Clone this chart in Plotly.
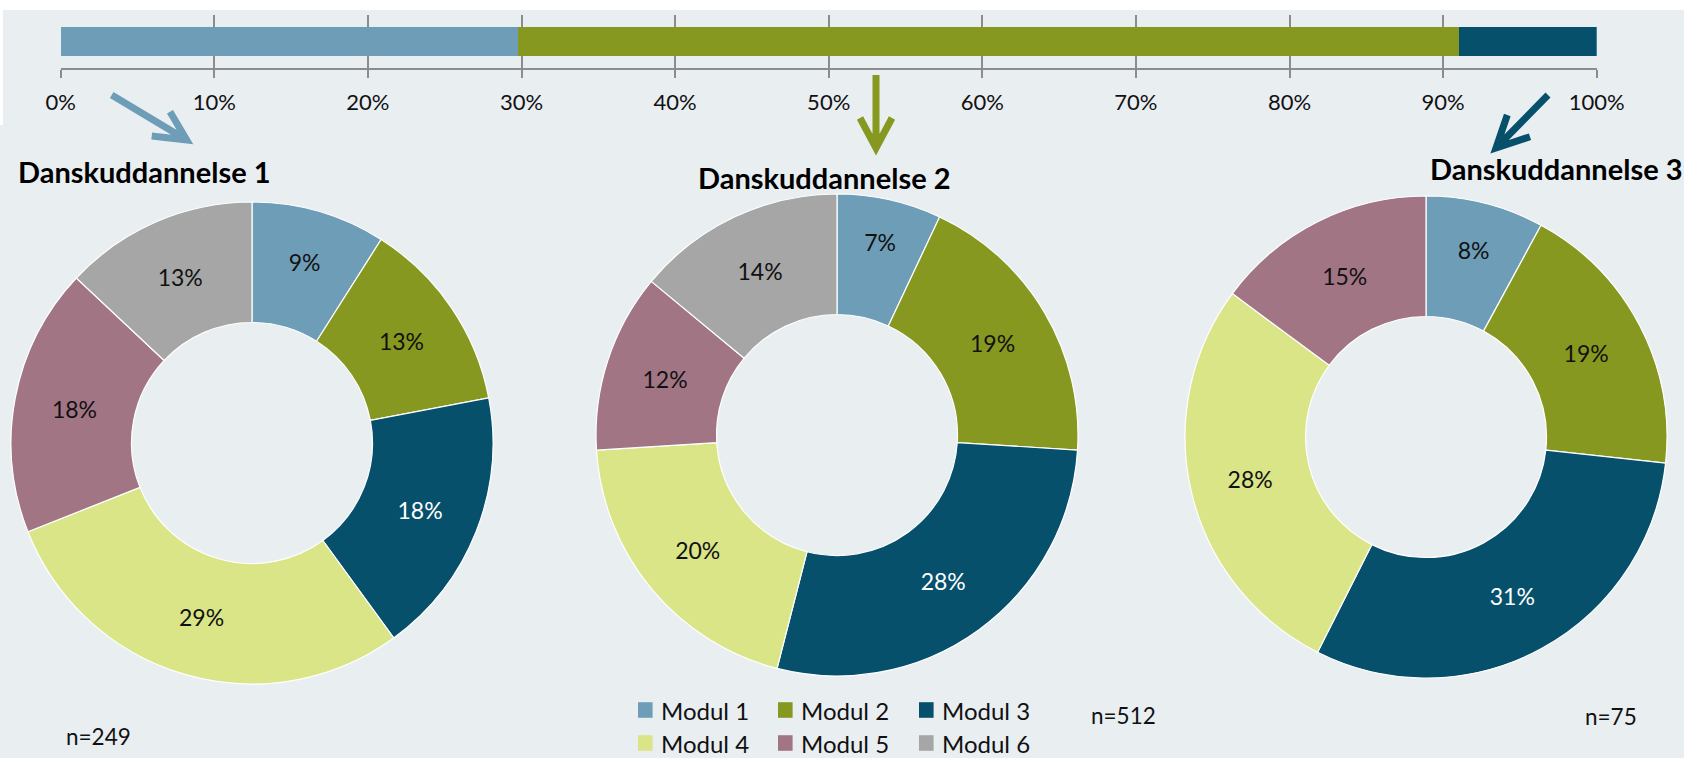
import plotly.graph_objects as go

W, H = 1684, 758

# ---------------- data ----------------
modules = ["Modul 1", "Modul 2", "Modul 3", "Modul 4", "Modul 5", "Modul 6"]
module_colors = ["#6E9DB8", "#86981F", "#06506C", "#D9E587", "#A27585", "#A6A6A6"]

educations = ["Danskuddannelse 1", "Danskuddannelse 2", "Danskuddannelse 3"]
edu_colors = ["#6E9DB8", "#86981F", "#06506C"]
n_values = [249, 512, 75]

edu1_pct = [9, 13, 18, 29, 18, 13]
edu2_pct = [7, 19, 28, 20, 12, 14]
edu3_pct = [8, 19, 31, 28, 15]

tick_vals = [0, 10, 20, 30, 40, 50, 60, 70, 80, 90, 100]
tick_text = ["0%", "10%", "20%", "30%", "40%", "50%", "60%", "70%", "80%", "90%", "100%"]

# ---------------- helpers ----------------
BG = "#E9EEF1"
FONT = "Lato"


def px(x):
    return x / W


def py(y):
    return 1 - y / H


fig = go.Figure()

# ---------------- top stacked bar ----------------
total_n = sum(n_values)
shares = [v / total_n * 100 for v in n_values]
for name, share, col in zip(educations, shares, edu_colors):
    fig.add_trace(go.Bar(
        x=[share], y=["all"], orientation="h", name=name,
        marker=dict(color=col, line=dict(width=0)),
        width=0.533, showlegend=False, hoverinfo="skip",
        xaxis="x", yaxis="y",
    ))

# ---------------- donuts ----------------
pie_data = [edu1_pct, edu2_pct, edu3_pct]
centers = [(252, 443), (837, 435), (1426, 437)]
R = 241
for vals, (cx, cy) in zip(pie_data, centers):
    labs = modules[:len(vals)]
    cols = module_colors[:len(vals)]
    tcols = ["#FFFFFF" if l == "Modul 3" else "#111111" for l in labs]
    fig.add_trace(go.Pie(
        labels=labs, values=vals, sort=False, direction="clockwise", rotation=0,
        hole=0.5,
        marker=dict(colors=cols, line=dict(color="#FFFFFF", width=1.2)),
        texttemplate="%{value}%", textposition="inside",
        insidetextorientation="horizontal",
        textfont=dict(family=FONT, size=23, color=tcols),
        showlegend=False, hoverinfo="label+value",
        domain=dict(x=[px(cx - R), px(cx + R)], y=[py(cy + R), py(cy - R)]),
    ))

# ---------------- layout ----------------
fig.update_layout(
    width=W, height=H,
    margin=dict(l=0, r=0, t=0, b=0, autoexpand=False),
    paper_bgcolor=BG, plot_bgcolor="rgba(0,0,0,0)",
    barmode="stack", bargap=0,
    font=dict(family=FONT, size=21, color="#111111"),
    showlegend=False,
    xaxis=dict(
        domain=[px(60.7), px(1596.7)], range=[0, 100],
        tickvals=tick_vals, ticktext=tick_text,
        showgrid=True, gridcolor="#8C8C8C", gridwidth=1.5,
        zeroline=False,
        showline=True, linecolor="#8C8C8C", linewidth=2,
        ticks="outside", ticklen=8, tickwidth=1.5, tickcolor="#8C8C8C",
        ticklabelstandoff=5,
        tickfont=dict(family=FONT, size=22, color="#111111"),
        automargin=False,
        fixedrange=True,
    ),
    yaxis=dict(
        domain=[py(68.3), py(15)], range=[-0.5, 0.5],
        showticklabels=False, showgrid=False, zeroline=False, showline=False,
        automargin=False,
        fixedrange=True,
    ),
)

# white frame at top / left of upper panel
shapes = [
    dict(type="rect", xref="paper", yref="paper", x0=0, x1=1, y0=py(10), y1=1,
         fillcolor="#FFFFFF", line=dict(width=0), layer="below"),
    dict(type="rect", xref="paper", yref="paper", x0=0, x1=px(3), y0=py(125), y1=1,
         fillcolor="#FFFFFF", line=dict(width=0), layer="below"),
]

# arrows (start, tip, arm1, arm2, colour)
arrows = [
    ((111.7, 95), (186.7, 140), (151.7, 136), (170, 111.7), edu_colors[0]),
    ((876, 75), (876, 148), (860, 118), (892, 118), edu_colors[1]),
    ((1548, 95), (1496, 148), (1507.3, 115), (1530, 136.7), edu_colors[2]),
]
for s, t, a1, a2, col in arrows:
    path = (f"M {px(s[0])},{py(s[1])} L {px(t[0])},{py(t[1])} "
            f"M {px(a1[0])},{py(a1[1])} L {px(t[0])},{py(t[1])} L {px(a2[0])},{py(a2[1])}")
    shapes.append(dict(type="path", xref="paper", yref="paper", path=path,
                       line=dict(color=col, width=7)))

# manual legend
leg_sq_x = [638, 778, 919]
leg_row_y = [710, 743]
annotations = []
for i, (m, col) in enumerate(zip(modules, module_colors)):
    cx = leg_sq_x[i % 3]
    ry = leg_row_y[i // 3]
    shapes.append(dict(type="rect", xref="paper", yref="paper",
                       x0=px(cx), x1=px(cx + 14.6), y0=py(ry + 7.8), y1=py(ry - 7.8),
                       fillcolor=col, line=dict(width=0)))
    annotations.append(dict(text=m, xref="paper", yref="paper", x=px(cx + 21), y=py(ry),
                            xanchor="left", yanchor="middle", showarrow=False,
                            font=dict(family=FONT, size=24, color="#111111")))

# titles
title_pos = [(16, 172, "left"), (824, 177, "center"), (1428, 169, "left")]
for t, (tx, ty, anc) in zip(educations, title_pos):
    annotations.append(dict(text=f"<b>{t}</b>", xref="paper", yref="paper",
                            x=px(tx), y=py(ty), xanchor=anc, yanchor="middle",
                            showarrow=False,
                            font=dict(family=FONT, size=29, color="#000000")))

# n labels
n_pos = [(64, 736), (1089, 715), (1583, 716)]
for n, (nx, ny) in zip(n_values, n_pos):
    annotations.append(dict(text=f"n={n}", xref="paper", yref="paper",
                            x=px(nx), y=py(ny), xanchor="left", yanchor="middle",
                            showarrow=False,
                            font=dict(family=FONT, size=22.5, color="#111111")))

fig.update_layout(shapes=shapes, annotations=annotations)

fig.write_html(
    "out.html",
    config={"displayModeBar": False},
    post_script="document.body.style.margin='0px';document.body.style.overflow='hidden';",
)
